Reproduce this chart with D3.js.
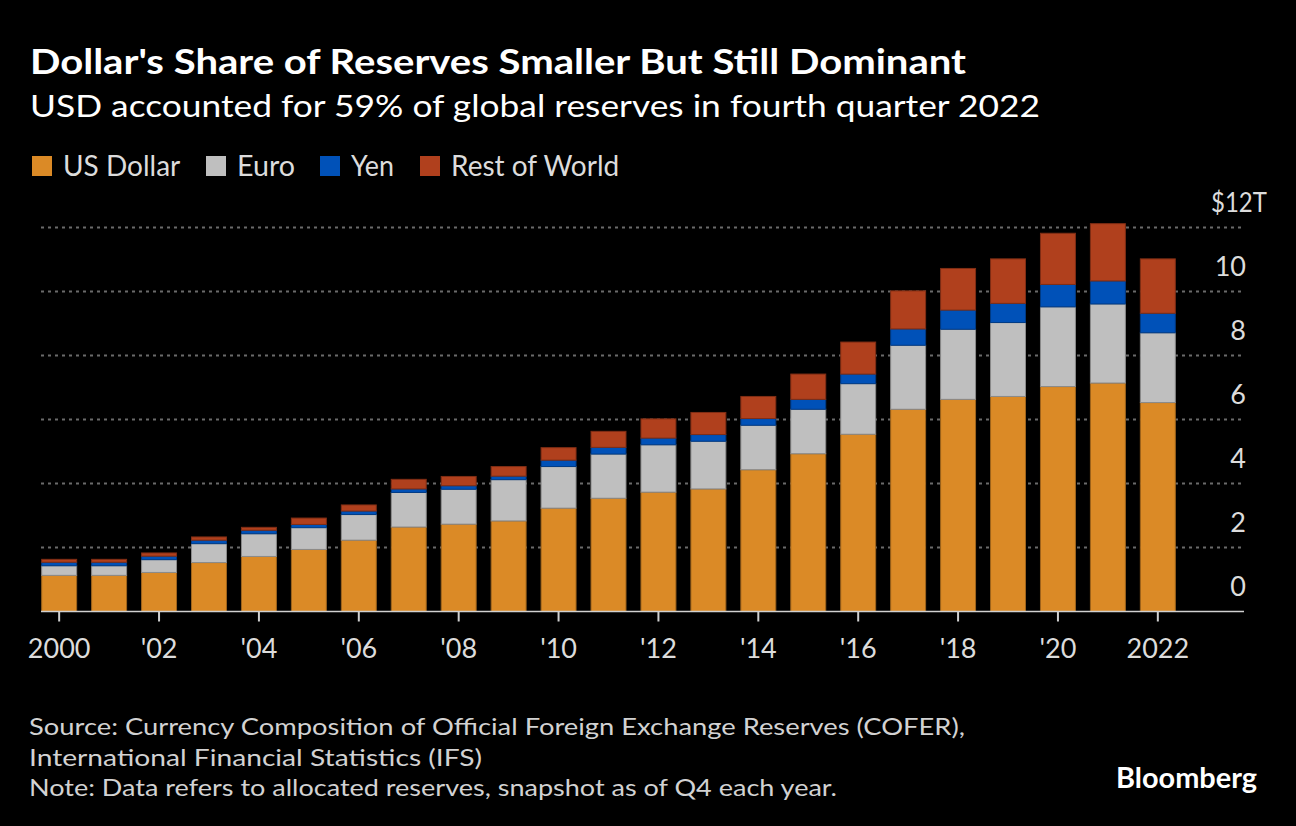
<!DOCTYPE html>
<html>
<head>
<meta charset="utf-8">
<script src="https://cdn.jsdelivr.net/npm/d3@7"></script>
<style>
  html, body { margin: 0; padding: 0; background: #000; }
  svg { display: block; }
  text { font-family: Lato, "Noto Sans", sans-serif; }
</style>
</head>
<body>
<svg id="chart" width="1296" height="826"></svg>
<script>
// ---- Data (trillions USD, Q4 each year) ----
const years = ["2000","2001","2002","2003","2004","2005","2006","2007","2008","2009","2010","2011",
               "2012","2013","2014","2015","2016","2017","2018","2019","2020","2021","2022"];
const usDollar    = [1.13,1.13,1.22,1.53,1.72,1.94,2.23,2.64,2.73,2.83,3.23,3.54,3.73,3.83,4.43,4.93,5.54,6.32,6.63,6.72,7.03,7.14,6.53];
const euro        = [0.30,0.30,0.40,0.59,0.71,0.68,0.80,1.08,1.09,1.29,1.30,1.38,1.48,1.49,1.39,1.39,1.58,2.00,2.19,2.31,2.49,2.47,2.18];
const yen         = [0.11,0.11,0.11,0.11,0.11,0.10,0.11,0.11,0.11,0.11,0.20,0.21,0.21,0.21,0.21,0.31,0.30,0.51,0.60,0.60,0.70,0.72,0.61];
const restOfWorld = [0.09,0.09,0.10,0.10,0.09,0.20,0.19,0.30,0.29,0.30,0.39,0.50,0.60,0.69,0.69,0.79,1.00,1.19,1.30,1.39,1.60,1.79,1.70];

const seriesNames  = ["US Dollar","Euro","Yen","Rest of World"];
const seriesKeys   = ["usd","eur","jpy","row"];
const seriesColors = ["#DB8A26","#BFBFBF","#0051B8","#B0401D"];

const xTickYears  = ["2000","2002","2004","2006","2008","2010","2012","2014","2016","2018","2020","2022"];
const xTickLabels = ["2000","'02","'04","'06","'08","'10","'12","'14","'16","'18","'20","2022"];
const yTickValues = [0,2,4,6,8,10,12];
const yTopLabel   = "$12T";

const titleText    = "Dollar's Share of Reserves Smaller But Still Dominant";
const subtitleText = "USD accounted for 59% of global reserves in fourth quarter 2022";
const sourceLines  = [
  "Source: Currency Composition of Official Foreign Exchange Reserves (COFER),",
  "International Financial Statistics (IFS)",
  "Note: Data refers to allocated reserves, snapshot as of Q4 each year."
];

// ---- Build table ----
const table = years.map((y, i) => ({
  year: y, usd: usDollar[i], eur: euro[i], jpy: yen[i], row: restOfWorld[i]
}));

const svg = d3.select("#chart");
svg.append("rect").attr("width", 1296).attr("height", 826).attr("fill", "#000");

// helper to fit text width
function fit(sel, w) {
  sel.each(function() {
    const len = this.getComputedTextLength();
    if (Math.abs(len - w) > 1) {
      d3.select(this).attr("textLength", w).attr("lengthAdjust", "spacingAndGlyphs");
    }
  });
  return sel;
}

// ---- Title / subtitle ----
fit(svg.append("text").attr("x", 30).attr("y", 74)
  .attr("fill", "#fff").attr("font-size", 35).attr("font-weight", 700)
  .text(titleText), 936);
fit(svg.append("text").attr("x", 30).attr("y", 117)
  .attr("fill", "#fff").attr("font-size", 30)
  .text(subtitleText), 1010);

// ---- Legend ----
const legendX = [32, 206, 320, 420];
const legendW = [118, 58, 43, 168];
seriesNames.forEach((name, i) => {
  svg.append("rect").attr("x", legendX[i]).attr("y", 156).attr("width", 20).attr("height", 20)
    .attr("fill", seriesColors[i]);
  fit(svg.append("text").attr("x", legendX[i] + 31).attr("y", 176)
    .attr("fill", "#dcdcdc").attr("font-size", 28).text(name), legendW[i]);
});

// ---- Scales ----
const x = d3.scaleBand().domain(years).range([34.2, 1182.8]).paddingInner(0.3).paddingOuter(0.15);
const y = d3.scaleLinear().domain([0, 12]).range([611.5, 227.5]);

// gridlines
const gridX0 = 41, gridX1 = 1244;
svg.append("g").selectAll("line").data(yTickValues.filter(v => v > 0)).join("line")
  .attr("x1", gridX0).attr("x2", gridX1)
  .attr("y1", d => y(d)).attr("y2", d => y(d))
  .attr("stroke", "#6a6a6a").attr("stroke-width", 2).attr("stroke-dasharray", "3,4");

// y labels
const yLab = svg.append("g").attr("fill", "#dcdcdc").attr("font-size", 27);
yTickValues.forEach(v => {
  if (v === 12) {
    fit(yLab.append("text").attr("x", 1211).attr("y", y(v) - 16).text(yTopLabel), 56);
  } else {
    yLab.append("text").attr("x", 1246).attr("y", y(v) - 16)
      .attr("text-anchor", "end").text(d3.format("d")(v));
  }
});

// ---- Bars ----
const stacked = d3.stack().keys(seriesKeys)(table);
const darker = c => d3.color(c).darker(0.9).formatHex();
svg.append("g").selectAll("g").data(stacked).join("g")
  .attr("fill", (d, i) => seriesColors[i])
  .attr("stroke", (d, i) => darker(seriesColors[i]))
  .attr("stroke-width", 1)
  .selectAll("rect").data(d => d).join("rect")
  .attr("x", d => x(d.data.year))
  .attr("width", x.bandwidth())
  .attr("y", d => y(d[1]))
  .attr("height", d => y(d[0]) - y(d[1]));

// ---- X axis ----
const xAxis = d3.axisBottom(x).tickValues(xTickYears)
  .tickFormat(d => xTickLabels[xTickYears.indexOf(d)])
  .tickSize(10).tickSizeOuter(0).tickPadding(17);
const gx = svg.append("g").attr("transform", `translate(0,${y(0)})`).call(xAxis);
gx.select(".domain").remove();
gx.selectAll(".tick line").attr("stroke", "#d0d0d0").attr("stroke-width", 2);
gx.selectAll(".tick text").attr("fill", "#dcdcdc").attr("font-size", 27)
  .attr("font-family", "Lato, sans-serif");
svg.append("line").attr("x1", gridX0).attr("x2", gridX1).attr("y1", y(0)).attr("y2", y(0))
  .attr("stroke", "#d0d0d0").attr("stroke-width", 1.5);

// ---- Source / note ----
const srcW = [936, 453, 808];
sourceLines.forEach((line, i) => {
  fit(svg.append("text").attr("x", 29).attr("y", 735 + i * 30.5)
    .attr("fill", "#d2d2d2").attr("font-size", 23).text(line), srcW[i]);
});

// ---- Bloomberg logo text ----
fit(svg.append("text").attr("x", 1116).attr("y", 788)
  .attr("fill", "#fff").attr("font-size", 28).attr("font-weight", 700)
  .text("Bloomberg"), 141);
</script>
</body>
</html>
